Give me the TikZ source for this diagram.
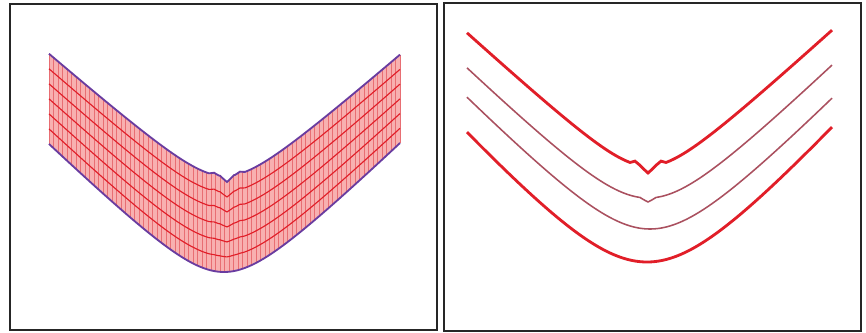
\documentclass[tikz,border=0pt]{standalone}
\usepackage{tikz}

\definecolor{bandpink}{RGB}{248,176,176}
\definecolor{hatchred}{RGB}{232,110,115}
\definecolor{edgeblue}{RGB}{105,60,160}
\definecolor{linered}{RGB}{225,30,40}
\definecolor{thinred}{RGB}{170,80,95}

\begin{document}
\begin{tikzpicture}[x=0.025cm, y=-0.025cm,
  declare function={
    hyp(\d,\r)=10*(sqrt((\d/10)^2+(\r/10)^2)-\r/10);
    ltop(\x)=176-0.87*hyp(\x-225,40)+6*max(0,1-abs(\x-227)/7)-2*max(0,1-abs(abs(\x-227)-13)/5);
    lbot(\x)=272-0.97*hyp(\x-224,50);
    lmid(\x,\t)=(1-\t)*ltop(\x)+\t*lbot(\x);
    rA(\x)=166-0.916*hyp(\x-648,40)+7*max(0,1-abs(\x-648)/8)-3*max(0,1-abs(abs(\x-648)-13)/5);
    rB(\x)=198-0.97*hyp(\x-648,55)+4*max(0,1-abs(\x-648)/8);
    rC(\x)=229-1.02*hyp(\x-650,65);
    rD(\x)=262-1.11*hyp(\x-647,80);
  },
  panel/.style={draw=black!85, line width=1.4pt},
  hatch/.style={hatchred, line width=0.5pt},
  bandline/.style={linered, line width=0.8pt},
  bandedge/.style={edgeblue, line width=1.3pt},
  thickcurve/.style={linered, line width=2pt},
  thincurve/.style={thinred, line width=1.1pt}]
  \useasboundingbox (0,0) rectangle (866,333);
  \fill[white] (0,0) rectangle (866,333);

  % left panel
  \fill[bandpink] plot[domain=49:400, samples=352] (\x,{ltop(\x)})
    -- plot[domain=400:49, samples=352] (\x,{lbot(\x)}) -- cycle;
  \foreach \x in {49,53.5,...,400}
    \draw[hatch] (\x,{ltop(\x)}) -- (\x,{lbot(\x)});
  \foreach \i in {1,...,5}
    \draw[bandline] plot[domain=49:400, samples=352] (\x,{lmid(\x,\i/6)});
  \draw[bandedge] plot[domain=49:400, samples=352] (\x,{ltop(\x)});
  \draw[bandedge] plot[domain=49:400, samples=352] (\x,{lbot(\x)});
  \draw[panel] (10,4) rectangle (437,330);

  % right panel
  \draw[thickcurve] plot[domain=467:832, samples=366] (\x,{rA(\x)});
  \draw[thincurve] plot[domain=467:832, samples=366] (\x,{rB(\x)});
  \draw[thincurve] plot[domain=467:832, samples=366] (\x,{rC(\x)});
  \draw[thickcurve] plot[domain=467:832, samples=366] (\x,{rD(\x)});
  \draw[panel] (444,3) rectangle (861,331);
\end{tikzpicture}
\end{document}
